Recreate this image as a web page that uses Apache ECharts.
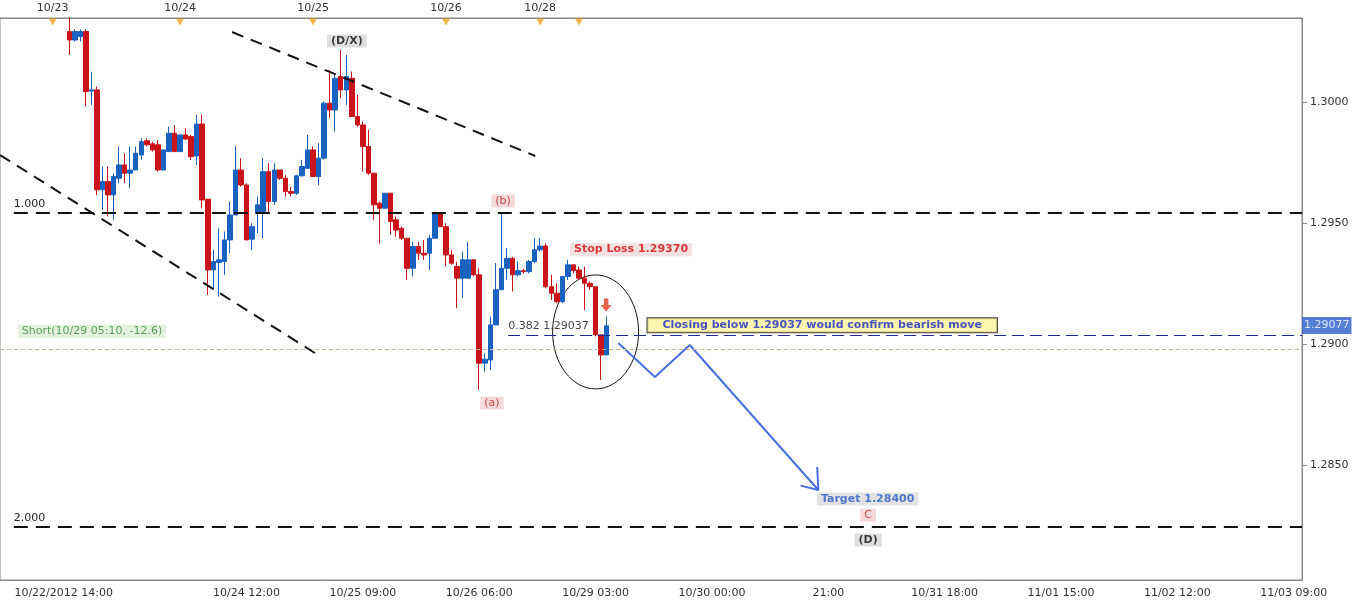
<!DOCTYPE html>
<html><head><meta charset="utf-8">
<script src="https://cdn.jsdelivr.net/npm/echarts@6/dist/echarts.min.js"></script>
<style>html,body{margin:0;padding:0;background:#fff}#c{width:1360px;height:608px}</style>
</head><body><div id="c"></div>
<script>
// [open, close, low, high]
const candles = [
[1.30291,1.30256,1.30194,1.30350],[1.30256,1.30291,1.30250,1.30300],[1.30270,1.30291,1.30250,1.30300],
[1.30291,1.30043,1.29981,1.30300],[1.30045,1.30050,1.29988,1.30125],[1.30050,1.29637,1.29616,1.30064],
[1.29637,1.29671,1.29554,1.29733],[1.29671,1.29616,1.29527,1.29733],[1.29616,1.29692,1.29513,1.29706],
[1.29685,1.29740,1.29664,1.29816],[1.29740,1.29706,1.29664,1.29788],[1.29706,1.29719,1.29644,1.29816],
[1.29719,1.29788,1.29719,1.29816],[1.29781,1.29836,1.29761,1.29850],[1.29840,1.29823,1.29816,1.29850],
[1.29827,1.29802,1.29795,1.29836],[1.29823,1.29719,1.29712,1.29843],[1.29719,1.29802,1.29719,1.29802],
[1.29795,1.29871,1.29795,1.29898],[1.29871,1.29795,1.29795,1.29905],[1.29795,1.29864,1.29795,1.29864],
[1.29864,1.29847,1.29843,1.29891],[1.29857,1.29774,1.29761,1.29864],[1.29777,1.29909,1.29740,1.29947],
[1.29909,1.29595,1.29561,1.29947],[1.29598,1.29306,1.29203,1.29598],[1.29306,1.29341,1.29224,1.29389],
[1.29337,1.29348,1.29196,1.29478],[1.29341,1.29430,1.29286,1.29465],[1.29430,1.29533,1.29375,1.29589],
[1.29533,1.29719,1.29533,1.29818],[1.29719,1.29657,1.29650,1.29768],[1.29657,1.29430,1.29430,1.29664],
[1.29433,1.29485,1.29389,1.29499],[1.29540,1.29575,1.29458,1.29609],[1.29547,1.29712,1.29437,1.29768],
[1.29712,1.29589,1.29540,1.29747],[1.29589,1.29719,1.29575,1.29747],[1.29719,1.29685,1.29678,1.29719],
[1.29685,1.29630,1.29609,1.29699],[1.29630,1.29623,1.29609,1.29650],[1.29623,1.29695,1.29616,1.29699],
[1.29695,1.29733,1.29692,1.29761],[1.29726,1.29802,1.29726,1.29864],[1.29802,1.29692,1.29692,1.29816],
[1.29692,1.29768,1.29657,1.29830],[1.29768,1.29995,1.29761,1.30002],[1.29995,1.29967,1.29933,1.30132],
[1.29967,1.30098,1.29878,1.30119],[1.30105,1.30050,1.30015,1.30215],[1.30050,1.30105,1.29988,1.30194],
[1.30098,1.29940,1.29940,1.30126],[1.29940,1.29905,1.29898,1.30029],[1.29905,1.29816,1.29712,1.29919],
[1.29816,1.29706,1.29699,1.29885],[1.29706,1.29575,1.29513,1.29706],[1.29582,1.29561,1.29416,1.29589],
[1.29561,1.29623,1.29561,1.29623],[1.29623,1.29506,1.29451,1.29623],[1.29513,1.29471,1.29444,1.29527],
[1.29478,1.29437,1.29430,1.29485],[1.29437,1.29313,1.29265,1.29437],[1.29313,1.29403,1.29279,1.29423],
[1.29403,1.29375,1.29348,1.29423],[1.29375,1.29368,1.29348,1.29430],[1.29375,1.29437,1.29306,1.29451],
[1.29437,1.29540,1.29437,1.29547],[1.29540,1.29485,1.29485,1.29540],[1.29485,1.29368,1.29320,1.29499],
[1.29368,1.29334,1.29327,1.29389],
[1.29320,1.29272,1.29148,1.29341],[1.29272,1.29348,1.29189,1.29382],[1.29272,1.29348,1.29272,1.29423],
[1.29348,1.29286,1.29279,1.29348],[1.29286,1.28921,1.28811,1.29313],[1.28921,1.28937,1.28886,1.28962],
[1.28934,1.29079,1.28893,1.29113],[1.29079,1.29224,1.29079,1.29334],[1.29224,1.29313,1.29224,1.29540],
[1.29313,1.29354,1.29265,1.29396],[1.29354,1.29286,1.29217,1.29361],[1.29286,1.29303,1.29279,1.29341],
[1.29303,1.29299,1.29292,1.29310],[1.29299,1.29341,1.29292,1.29348],[1.29341,1.29389,1.29334,1.29437],
[1.29389,1.29405,1.29382,1.29437],[1.29405,1.29237,1.29230,1.29416],[1.29237,1.29210,1.29182,1.29286],
[1.29210,1.29175,1.29169,1.29251],[1.29175,1.29279,1.29169,1.29279],[1.29279,1.29327,1.29265,1.29348],
[1.29327,1.29303,1.29292,1.29327],[1.29306,1.29272,1.29265,1.29320],[1.29272,1.29251,1.29141,1.29320],
[1.29251,1.29237,1.29224,1.29258],[1.29237,1.29038,1.29031,1.29237],[1.29038,1.28955,1.28852,1.29038],
[1.28955,1.29075,1.28955,1.29113]
];
const firstCandleSlot = 12;
const slotCount = 235;
const bottomLabels = {11:'10/22/2012 14:00',44:'10/24 12:00',65:'10/25 09:00',86:'10/26 06:00',107:'10/29 03:00',128:'10/30 00:00',149:'21:00',170:'10/31 18:00',191:'11/01 15:00',212:'11/02 12:00',233:'11/03 09:00'};
const topLabels = {9:'10/23',32:'10/24',56:'10/25',80:'10/26',97:'10/28'};
const topMarkerSlots = [9,32,56,80,97,104];
const yMin = 1.28025, yMax = 1.30347;
const fib100 = 1.29541, fib200 = 1.28244;
const fib382 = 1.29037, shortLevel = 1.28979, lastPriceTag = 1.29077;
const upperChannel = [[41.4,1.30289],[96.1,1.29777]];
const lowerChannel = [[-0.5,1.29781],[56.9,1.28955]];
const projection = [[111.1,1.29004],[117.7,1.28864],[124.0,1.28996],[147.2,1.28397]];
const arrowHead = [[144.0,1.28415],[147.2,1.28397],[147.0,1.28492]];
const circle = {x:107.0, y:1.29050, rx:43, ry:57};
const sellArrow = [108.9,1.29161];
const notes = [
 {x:62.1,y:1.30252,t:'(D/X)',c:'#111',bg:'#d6d6d6',b:true},
 {x:90.3,y:1.29591,t:'(b)',c:'#b22',bg:'#f0d0d0'},
 {x:88.3,y:1.28756,t:'(a)',c:'#b22',bg:'#f0d0d0'},
 {x:113.4,y:1.29390,t:'Stop Loss 1.29370',c:'#d01010',bg:'#f0d8d8',b:true},
 {x:98.5,y:1.29074,t:'0.382 1.29037',c:'#111',bg:null},
 {x:156.1,y:1.28360,t:'Target 1.28400',c:'#2a5cc8',bg:'#dcdcdc',b:true},
 {x:156.2,y:1.28293,t:'C',c:'#c02020',bg:'#f0d0d0'},
 {x:156.2,y:1.28190,t:'(D)',c:'#111',bg:'#d6d6d6',b:true},
 {x:16.1,y:1.29053,t:'Short(10/29 05:10, -12.6)',c:'#3a8a3a',bg:'#dcefd4'}
];
const closingNote = {x:147.9,y:1.29078,t:'Closing below 1.29037 would confirm bearish move'};

const cats = Array.from({length:slotCount},(_,i)=>String(i));
const candleData = cats.map((c,i)=>{const k=i-firstCandleSlot;return (k>=0&&k<candles.length)?candles[k]:'-';});

const chart = echarts.init(document.getElementById('c'));
const font = 'Verdana, DejaVu Sans, sans-serif';
const fibLabel = t=>({show:true,position:'insideStartTop',formatter:t,distance:[0,3],color:'#222',fontSize:11,fontFamily:font});
chart.setOption({
 animation:false,
 grid:{left:0,right:58,top:18,bottom:28,show:true,borderColor:'#888',borderWidth:1},
 xAxis:[
  {type:'category',data:cats,position:'bottom',boundaryGap:true,
   axisLine:{lineStyle:{color:'#888'}},
   axisTick:{interval:i=>bottomLabels[i]!==undefined,lineStyle:{color:'#888'},length:4},
   axisLabel:{interval:i=>bottomLabels[i]!==undefined,formatter:(v,i)=>bottomLabels[i]||'',color:'#333',fontSize:11,fontFamily:font,margin:8}},
  {type:'category',data:cats,position:'top',boundaryGap:true,
   axisLine:{lineStyle:{color:'#888'}},
   axisTick:{interval:i=>i%8===1,inside:true,lineStyle:{color:'#999'},length:4},
   axisLabel:{interval:i=>topLabels[i]!==undefined,formatter:(v,i)=>topLabels[i]||'',color:'#333',fontSize:11,fontFamily:font,margin:4}},
  {type:'value',min:-0.5,max:slotCount-0.5,show:false}
 ],
 yAxis:{type:'value',position:'right',min:yMin,max:yMax,splitNumber:5,scale:true,
  splitLine:{show:false},axisLine:{show:true,onZero:false,lineStyle:{color:'#888'}},
  axisTick:{show:true,lineStyle:{color:'#888'}},
  axisLabel:{showMinLabel:false,showMaxLabel:false,formatter:v=>v.toFixed(4),color:'#333',fontSize:11,fontFamily:font}},
 series:[
  {type:'candlestick',xAxisIndex:0,data:candleData,barWidth:5,
   itemStyle:{color:'#1a62c0',color0:'#c8141a',borderColor:'#1a62c0',borderColor0:'#c8141a',borderWidth:1}},
  {type:'line',xAxisIndex:2,data:[[-0.5,yMax]],symbol:'none',silent:true,
   markLine:{symbol:'none',silent:true,data:[
    [{coord:[2,fib100],lineStyle:{color:'#111',type:[14,8],width:2},label:fibLabel('1.000')},{coord:[slotCount-0.5,fib100]}],
    [{coord:[2,fib200],lineStyle:{color:'#111',type:[14,8],width:2},label:fibLabel('2.000')},{coord:[slotCount-0.5,fib200]}],
    [{coord:[91.2,fib382],lineStyle:{color:'#1a2a90',type:[12,6],width:1},label:{show:false}},{coord:[slotCount-0.5,fib382]}],
    [{coord:[-0.5,shortLevel],lineStyle:{color:'#c8b890',type:[4,3],width:1},label:{show:false}},{coord:[slotCount-0.5,shortLevel]}],
    [{coord:upperChannel[0],lineStyle:{color:'#111',type:[12,8],width:2},label:{show:false}},{coord:upperChannel[1]}],
    [{coord:lowerChannel[0],lineStyle:{color:'#111',type:[12,8],width:2},label:{show:false}},{coord:lowerChannel[1]}]
   ]}},
  {type:'line',xAxisIndex:2,data:projection,symbol:'none',lineStyle:{color:'#4a6ee0',width:2},silent:true},
  {type:'line',xAxisIndex:2,data:arrowHead,symbol:'none',lineStyle:{color:'#4a6ee0',width:2},silent:true},
  {type:'scatter',xAxisIndex:2,symbolSize:0,silent:true,
   data:notes.map(n=>({value:[n.x,n.y],label:{show:true,position:'inside',formatter:n.t,color:n.c,fontWeight:n.b?'bold':'normal',
     backgroundColor:n.bg||'transparent',padding:[1,4],fontSize:11,fontFamily:font}}))},
  {type:'scatter',xAxisIndex:2,symbolSize:0,silent:true,
   data:[{value:[closingNote.x,closingNote.y],label:{show:true,position:'inside',formatter:'{u|'+closingNote.t+'}',
     backgroundColor:'#fcf39c',borderColor:'#111',borderWidth:1,padding:[2,15,1,15],
     rich:{u:{color:'#1a2ac0',fontWeight:'bold',fontSize:11,fontFamily:font,textBorderWidth:0}}}}]},
  {type:'scatter',xAxisIndex:2,symbolSize:0,silent:true,clip:false,
   data:[{value:[slotCount-0.5,lastPriceTag],label:{show:true,position:'right',distance:0,formatter:lastPriceTag.toFixed(5),
     color:'#fff',backgroundColor:'#2a5cc8',padding:[3,2],fontSize:11,fontFamily:font}}]},
  {type:'scatter',xAxisIndex:2,silent:true,symbol:'triangle',symbolRotate:180,symbolSize:[8,7],clip:false,
   itemStyle:{color:'#f0a020'},symbolOffset:[0,4],data:topMarkerSlots.map(s=>[s,yMax])},
  {type:'scatter',xAxisIndex:2,silent:true,symbol:'path://M3,0 L7,0 L7,6 L10,6 L5,12 L0,6 L3,6 Z',symbolSize:[11,13],
   itemStyle:{color:'#e03a1a'},data:[sellArrow]}
 ]
});
const c0 = chart.convertToPixel({xAxisIndex:2,yAxisIndex:0},[circle.x,circle.y]);
chart.setOption({graphic:[{type:'ellipse',shape:{cx:c0[0],cy:c0[1],rx:circle.rx,ry:circle.ry},style:{fill:'none',stroke:'#111',lineWidth:1},silent:true}]});
</script></body></html>
